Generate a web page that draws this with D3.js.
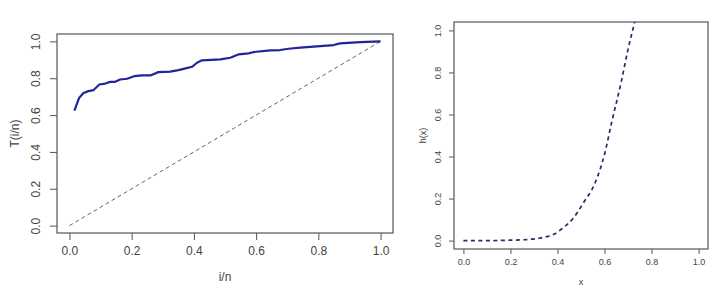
<!DOCTYPE html>
<html>
<head>
<meta charset="UTF-8">
<script src="https://d3js.org/d3.v7.min.js"></script>
<style>
  body { margin: 0; background: #fff; }
  text { font-family: "Liberation Sans", Arial, sans-serif; fill: #444; }
</style>
</head>
<body>
<svg id="chart" width="726" height="300"></svg>
<script>
// left panel: T(i/n)
const tX = [0.016, 0.031, 0.045, 0.061, 0.077, 0.096, 0.115, 0.131, 0.145, 0.163, 0.185, 0.208, 0.233, 0.26, 0.286, 0.324,
            0.35, 0.367, 0.394, 0.41, 0.426, 0.485, 0.517, 0.543, 0.576, 0.592, 0.645, 0.677, 0.704, 0.742, 0.849, 0.87, 0.935, 1.0];
const tY = [0.624, 0.693, 0.72, 0.73, 0.735, 0.766, 0.771, 0.78, 0.78, 0.793, 0.797, 0.811, 0.815, 0.815, 0.833, 0.836,
            0.844, 0.851, 0.862, 0.884, 0.897, 0.902, 0.911, 0.929, 0.935, 0.942, 0.951, 0.953, 0.96, 0.966, 0.98, 0.989, 0.996, 1.0];
const diag = [[0, 0], [1, 1]];

// right panel: h(x)
const hX = [0, 0.1, 0.2, 0.27, 0.325, 0.36, 0.39, 0.417, 0.467, 0.509, 0.559, 0.601, 0.63, 0.672, 0.70, 0.728, 0.74];
const hY = [0, 0, 0.002, 0.005, 0.012, 0.02, 0.033, 0.055, 0.106, 0.177, 0.272, 0.415, 0.56, 0.76, 0.91, 1.04, 1.10];

const ticks = [0, 0.2, 0.4, 0.6, 0.8, 1.0];

const svg = d3.select("#chart");
const fmt = d3.format(".1f");

function panel(box, opt) {
  const x = d3.scaleLinear().domain([-0.04, 1.04]).range([box.x0, box.x1]);
  const y = d3.scaleLinear().domain([-0.04, 1.04]).range([box.y1, box.y0]);
  const g = svg.append("g");

  const clipId = "clip" + opt.id;
  svg.append("clipPath").attr("id", clipId).append("rect")
    .attr("x", box.x0).attr("y", box.y0)
    .attr("width", box.x1 - box.x0).attr("height", box.y1 - box.y0);

  // axes (R style: ticks only, box drawn separately)
  const ax = g.append("g")
    .attr("transform", `translate(0,${box.y1})`)
    .call(d3.axisBottom(x).tickValues(ticks).tickFormat(fmt).tickSize(opt.tick).tickPadding(opt.pad));
  const ay = g.append("g")
    .attr("transform", `translate(${box.x0},0)`)
    .call(d3.axisLeft(y).tickValues(ticks).tickFormat(fmt).tickSize(opt.tick).tickPadding(opt.pad));
  [ax, ay].forEach(a => {
    a.select(".domain").remove();
    a.selectAll("line").attr("stroke", "#555");
    a.selectAll("text").style("font-size", opt.font + "px").attr("fill", "#444");
  });
  // rotate y labels like R (las=0)
  ay.selectAll(".tick text")
    .attr("x", 0).attr("y", 0).attr("dy", 0).attr("text-anchor", "middle")
    .attr("transform", `translate(${-opt.tick - opt.pad - opt.font * 0.35},0) rotate(-90)`);

  g.append("rect")
    .attr("x", box.x0).attr("y", box.y0)
    .attr("width", box.x1 - box.x0).attr("height", box.y1 - box.y0)
    .attr("fill", "none").attr("stroke", "#555").attr("stroke-width", 1.2);

  g.append("text")
    .attr("x", (box.x0 + box.x1) / 2).attr("y", opt.xlabY)
    .attr("text-anchor", "middle").attr("fill", "#444").style("font-size", opt.font + "px")
    .text(opt.xlab);
  g.append("text")
    .attr("transform", `translate(${opt.ylabX},${(box.y0 + box.y1) / 2}) rotate(-90)`)
    .attr("text-anchor", "middle").attr("fill", "#444").style("font-size", opt.font + "px")
    .text(opt.ylab);

  const plot = svg.append("g").attr("clip-path", `url(#${clipId})`);
  return { x, y, plot };
}

// left panel
const L = panel({ x0: 57, x1: 393, y0: 34, y1: 233 },
  { id: "L", tick: 7, pad: 6, font: 12, xlab: "i/n", xlabY: 281, ylab: "T(i/n)", ylabX: 19 });

L.plot.append("path")
  .datum(diag)
  .attr("fill", "none").attr("stroke", "#666").attr("stroke-width", 1)
  .attr("stroke-dasharray", "4,3")
  .attr("d", d3.line().x(d => L.x(d[0])).y(d => L.y(d[1])));

L.plot.append("path")
  .datum(tX.map((v, i) => [v, tY[i]]))
  .attr("fill", "none").attr("stroke", "#23239a").attr("stroke-width", 2.2)
  .attr("stroke-linejoin", "round")
  .attr("d", d3.line().x(d => L.x(d[0])).y(d => L.y(d[1])));

// right panel
const R = panel({ x0: 454, x1: 708, y0: 22, y1: 249 },
  { id: "R", tick: 5, pad: 5, font: 9, xlab: "x", xlabY: 285, ylab: "h(x)", ylabX: 426 });

R.plot.append("path")
  .datum(hX.map((v, i) => [v, hY[i]]))
  .attr("fill", "none").attr("stroke", "#2a2a66").attr("stroke-width", 1.7)
  .attr("stroke-dasharray", "4,3.5")
  .attr("d", d3.line().curve(d3.curveMonotoneX).x(d => R.x(d[0])).y(d => R.y(d[1])));
</script>
</body>
</html>
